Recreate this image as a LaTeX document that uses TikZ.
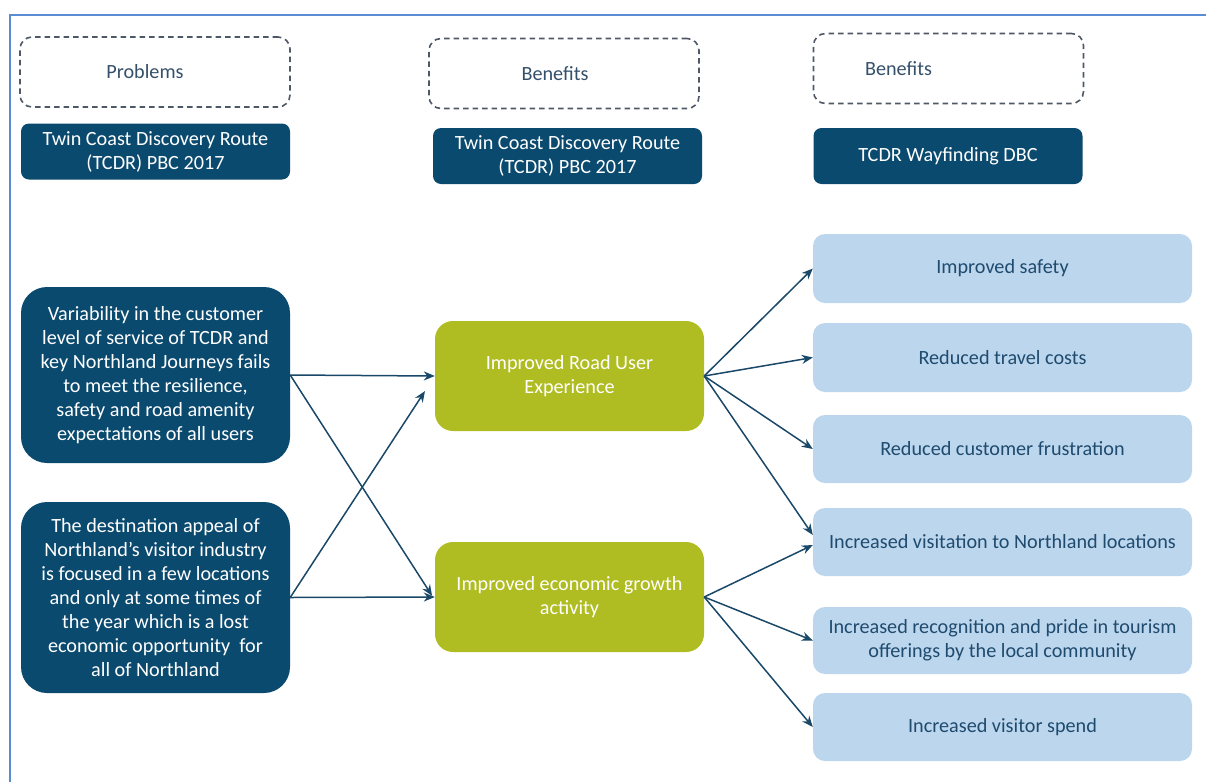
\documentclass[tikz,border=0pt]{standalone}
\usepackage{fontspec}
\setmainfont{Carlito}
\usetikzlibrary{arrows.meta}
\definecolor{navy}{HTML}{0B4A6F}
\definecolor{olive}{HTML}{AFBD22}
\definecolor{lblue}{HTML}{BCD6EE}
\definecolor{ltext}{HTML}{1F4B6E}
\definecolor{htext}{HTML}{34506A}
\definecolor{dashc}{HTML}{4E5866}
\definecolor{frame}{HTML}{5B8BD4}
\definecolor{arrc}{HTML}{1A4868}
\tikzset{
  every node/.style={font=\fontsize{20.2}{24}\selectfont},
  hdrdash/.style={draw=dashc, line width=1.6pt, dash pattern=on 5.5pt off 4pt, rounded corners=12pt, minimum width=270pt, minimum height=70pt, text=htext, inner sep=0pt},
  hdrbox/.style={fill=navy, rounded corners=8pt, minimum width=269pt, minimum height=56pt, text=white, align=center, inner sep=0pt},
  probbox/.style={fill=navy, rounded corners=26pt, minimum width=269pt, text=white, align=center, inner sep=0pt},
  greenbox/.style={fill=olive, rounded corners=18pt, minimum width=269pt, minimum height=110pt, text=white, align=center, inner sep=0pt},
  benbox/.style={fill=lblue, rounded corners=12pt, minimum width=379pt, minimum height=68pt, text=ltext, align=center, inner sep=0pt},
  conn/.style={draw=arrc, line width=1.5pt, -{Stealth[length=11pt,width=9pt]}}
}
\begin{document}
\begin{tikzpicture}[x=1pt,y=-1pt]
\useasboundingbox (0,0) rectangle (1206,782);
\draw[frame, line width=2.6pt] (10,782) -- (10,15) -- (1206,15);

% header dashed boxes
\node[hdrdash] (d1) at (155,72) {\raisebox{-3pt}{Problems}\hspace*{20pt}};
\node[hdrdash] (d2) at (564,73.5) {\raisebox{-2pt}{Benefits}\hspace*{18pt}};
\node[hdrdash] (d3) at (948.5,68.5) {\raisebox{-4pt}{Benefits}\hspace*{100pt}};

% header solid boxes
\node[hdrbox] (h1) at (155.5,151.5) {Twin Coast Discovery Route\\(TCDR) PBC 2017};
\node[hdrbox] (h2) at (567.5,156) {Twin Coast Discovery Route\\(TCDR) PBC 2017};
\node[hdrbox] (h3) at (948,156) {TCDR Wayfinding DBC};

% problems
\node[probbox, minimum height=176pt] (p1) at (155.5,375) {\raisebox{-3pt}{\parbox{260pt}{\centering Variability in the customer\\level of service of TCDR and\\key Northland Journeys fails\\to meet the resilience,\\safety and road amenity\\expectations of all users}}};
\node[probbox, minimum height=191pt] (p2) at (155.5,597.5) {The destination appeal of\\Northland’s visitor industry\\is focused in a few locations\\and only at some times of\\the year which is a lost\\economic opportunity\ \ for\\all of Northland};

% benefits (middle)
\node[greenbox] (g1) at (569.5,376) {Improved Road User\\Experience};
\node[greenbox] (g2) at (569.5,597) {Improved economic growth\\activity};

% benefits (right)
\node[benbox, minimum height=69pt] (b1) at (1002.5,268.5) {Improved safety};
\node[benbox, minimum height=69pt] (b2) at (1002.5,357.5) {Reduced travel costs};
\node[benbox] (b3) at (1002.5,449) {Reduced customer frustration};
\node[benbox] (b4) at (1002.5,542) {Increased visitation to Northland locations};
\node[benbox, minimum height=67pt] (b5) at (1002.5,640.5) {Increased recognition and pride in tourism\\offerings by the local community};
\node[benbox] (b6) at (1002.5,727) {Increased visitor spend};

% connectors left
\draw[conn] (p1.east) -- (g1.west);
\draw[conn, shorten >=5pt] (p1.east) -- ([yshift=-3pt]g2.west);
\draw[conn] (p2.east) -- (g2.west);
\draw[conn, shorten >=18pt] (p2.east) -- (g1.west);

% connectors right
\draw[conn] (g1.east) -- (b1.west);
\draw[conn] (g1.east) -- (b2.west);
\draw[conn] (g1.east) -- (b3.west);
\draw[conn] (g1.east) -- ([yshift=7pt]b4.west);
\draw[conn] (g2.east) -- ([yshift=-3pt]b4.west);
\draw[conn] (g2.east) -- (b5.west);
\draw[conn] (g2.east) -- (b6.west);
\end{tikzpicture}
\end{document}
